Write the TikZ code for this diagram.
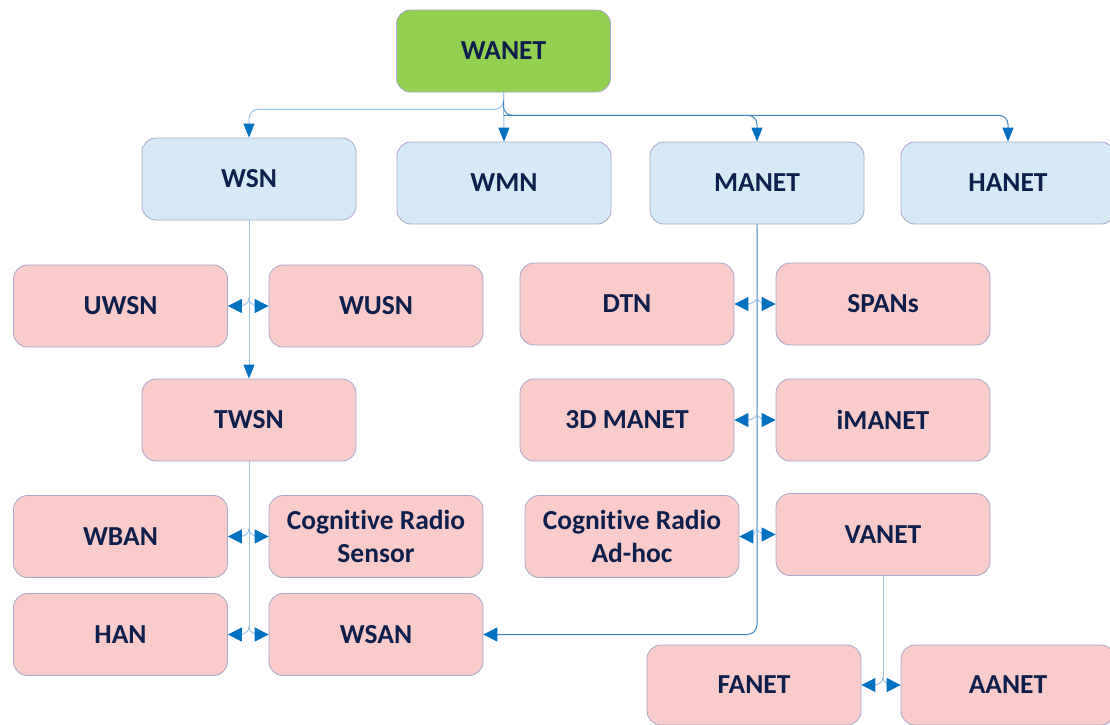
\documentclass[tikz,border=0pt]{standalone}
\usepackage{fontspec}
\setmainfont{Carlito}[Ligatures=NoCommon]
\usetikzlibrary{arrows.meta}
\definecolor{leaf}{HTML}{92D050}
\definecolor{skyfill}{HTML}{D6EAF6}
\definecolor{rosefill}{HTML}{F9CBCA}
\definecolor{boxedge}{HTML}{A9A7CB}
\definecolor{navy}{HTML}{0F1F4D}
\definecolor{tipblue}{HTML}{0070C0}
\definecolor{paleline}{HTML}{9DC3E6}
\definecolor{midline}{HTML}{3C85C4}
\begin{document}
\begin{tikzpicture}[x=1pt,y=-1pt,
  box/.style={draw=boxedge, line width=0.8pt, rounded corners=14pt,
    minimum width=214pt, minimum height=82pt, inner sep=0pt,
    font=\fontsize{27.5}{33}\selectfont\bfseries, text=navy, align=center},
  rootbox/.style={box, fill=leaf},
  netbox/.style={box, fill=skyfill},
  subbox/.style={box, fill=rosefill},
  pale/.style={draw=paleline, line width=1pt},
  mid/.style={draw=midline, line width=1pt},
  down/.style={-{Triangle[width=11pt,length=14pt,color=tipblue]}},
  side/.style={-{Triangle[width=14pt,length=14pt,color=tipblue]}}]
\useasboundingbox (0,0) rectangle (1110,724);

% root and first level
\node[rootbox] (wanet) at (503.5,51) {WANET};
\node[netbox] (wsn) at (249,179) {WSN};
\node[netbox] (wmn) at (504,183) {WMN};
\node[netbox] (manet) at (757,183) {MANET};
\node[netbox] (hanet) at (1008,183) {HANET};

% WSN family
\node[subbox] (uwsn) at (120.5,306) {UWSN};
\node[subbox] (wusn) at (376,306) {WUSN};
\node[subbox] (twsn) at (249,420) {TWSN};
\node[subbox] (wban) at (120.5,536.5) {WBAN};
\node[subbox] (crs) at (376,536.5) {Cognitive Radio\\Sensor};
\node[subbox] (han) at (120.5,634.5) {HAN};
\node[subbox] (wsan) at (376,634.5) {WSAN};

% MANET family
\node[subbox] (dtn) at (627,304) {DTN};
\node[subbox] (spans) at (883,304) {SPANs};
\node[subbox] (dmanet) at (627,420) {3D MANET};
\node[subbox] (imanet) at (883,420) {iMANET};
\node[subbox] (crah) at (632,536.5) {Cognitive Radio\\Ad-hoc};
\node[subbox] (vanet) at (883,534.5) {VANET};
\node[subbox, minimum height=80pt] (fanet) at (754,685) {FANET};
\node[subbox, minimum height=80pt] (aanet) at (1008,685) {AANET};

% top fan-out
\coordinate (t1) at ([yshift=-17pt]wanet.south);
\coordinate (t2) at ([yshift=-23pt]wanet.south);
\draw[pale, down] (wanet.south) -- (wmn.north);
\draw[pale, down, rounded corners=9pt] (wanet.south) -- (t1) -| (wsn.north);
\draw[mid, down, rounded corners=9pt] ([yshift=-8pt]wanet.south) -- (t2) -| (hanet.north);
\draw[mid, down, rounded corners=9pt] (t2) -| (manet.north);

% WSN trunk
\coordinate (a1) at (wsn.south |- uwsn.east);
\draw[pale, down] (wsn.south) -- (twsn.north);
\draw[pale, side] ([yshift=8pt]a1) to[out=-90,in=0] (uwsn.east);
\draw[pale, side] ([yshift=8pt]a1) to[out=-90,in=180] (wusn.west);

% TWSN trunk
\coordinate (b1) at (twsn.south |- wban.east);
\coordinate (b2) at (twsn.south |- han.east);
\draw[pale] (twsn.south) -- ([yshift=8pt]b2);
\draw[pale, side] ([yshift=8pt]b1) to[out=-90,in=0] (wban.east);
\draw[pale, side] ([yshift=8pt]b1) to[out=-90,in=180] (crs.west);
\draw[pale, side] ([yshift=8pt]b2) to[out=-90,in=0] (han.east);
\draw[pale, side] ([yshift=8pt]b2) to[out=-90,in=180] (wsan.west);

% MANET trunk
\coordinate (c1) at (manet.south |- dtn.east);
\coordinate (c2) at (manet.south |- dmanet.east);
\coordinate (c3) at (manet.south |- vanet.west);
\draw[mid, side, rounded corners=10pt] (manet.south) |- (wsan.east);
\foreach \c/\l/\r in {c1/dtn/spans, c2/dmanet/imanet, c3/crah/vanet}{
  \draw[pale, side] ([yshift=8pt]\c) to[out=-90,in=0] (\l.east);
  \draw[pale, side] ([yshift=8pt]\c) to[out=-90,in=180] (\r.west);
}

% VANET trunk
\coordinate (d1) at (vanet.south |- fanet.east);
\draw[pale] (vanet.south) -- ([yshift=8pt]d1);
\draw[pale, side] ([yshift=8pt]d1) to[out=-90,in=0] (fanet.east);
\draw[pale, side] ([yshift=8pt]d1) to[out=-90,in=180] (aanet.west);
\end{tikzpicture}
\end{document}
